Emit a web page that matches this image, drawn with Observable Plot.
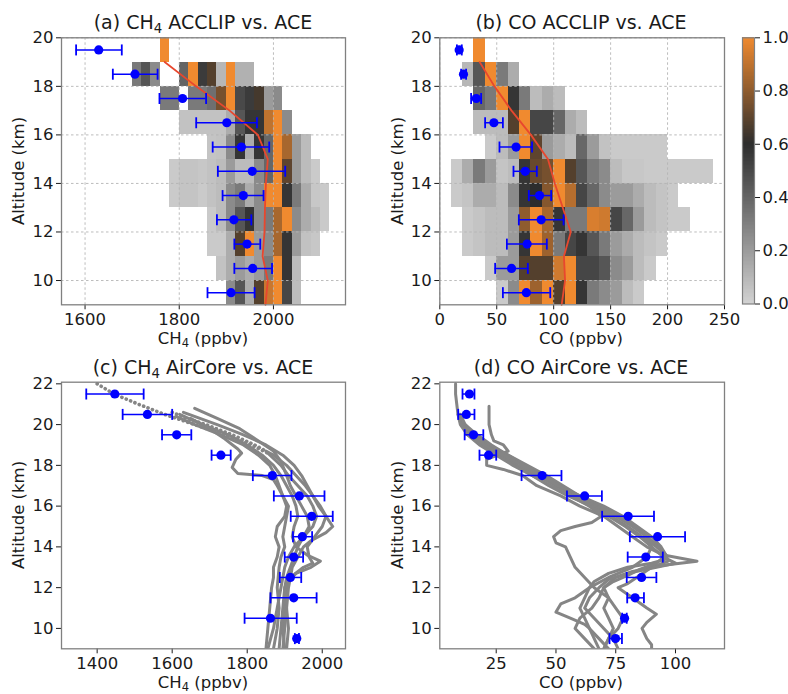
<!DOCTYPE html>
<html><head><meta charset="utf-8">
<script src="https://cdn.jsdelivr.net/npm/d3@7"></script>
<script src="https://cdn.jsdelivr.net/npm/@observablehq/plot@0.6"></script>
<style>
body{margin:0;background:#fff;}
#root{position:relative;width:788px;height:694px;font-family:"DejaVu Sans",sans-serif;color:#1a1a1a;overflow:hidden;background:#fff}
.abs{position:absolute;white-space:nowrap;line-height:1.15}
.title{font-size:19px;transform:translate(-50%,-50%)}
.lab{font-size:16.5px;transform:translate(-50%,-50%)}
.ylab{font-size:16.5px;transform:translate(-50%,-50%) rotate(-90deg)}
sub{font-size:0.7em;vertical-align:-0.28em;line-height:0}
svg{position:absolute;overflow:visible}
</style></head><body><div id="root"></div>
<script>
// ---------- DATA ----------
// altitude bins (lower edge, km) for the ACCLIP 2-D histograms
const altBins = [9, 10, 11, 12, 13, 14, 15, 16, 17, 18, 19];
// CH4 histogram: first bin (ppbv) per altitude row, bin width 20 ppbv, row-normalised frequency (null = empty)
const ch4BinWidth = 20;
const ch4BinStart = [1900, 1880, 1860, 1860, 1780, 1780, 1860, 1800, 1760, 1700, 1760];
const ch4Frac = [
  [0.26, 0.45, 0.14, 0.68, 0.92, 1.0, 0.51, 0.08],
  [0.06, 0.14, 0.2, 0.14, 0.2, 0.32, 1.0, 0.57, 0.08],
  [0.03, 0.03, 0.14, 0.68, 1.0, 0.2, 0.26, 0.85, 0.57, 0.2, 0.06, 0.04],
  [0.03, 0.08, 0.26, 0.45, 0.57, 0.26, 0.32, 0.85, 1.0, 0.26, 0.14, 0.08, 0.03],
  [0.03, 0.05, 0.05, 0.03, 0.06, 0.08, 0.26, 0.32, 0.14, 0.26, 1.0, 1.0, 0.57, 0.32, 0.14, 0.04, 0.03],
  [0.03, 0.05, 0.05, 0.04, 0.06, 0.08, 0.2, 0.08, 0.08, 0.26, 0.39, 1.0, 0.7, 0.2, 0.08, 0.03],
  [0.05, 0.06, 0.26, 0.57, 0.14, 0.57, 0.39, 1.0, 0.85, 0.2, 0.08],
  [0.06, 0.06, 0.06, 0.06, 0.06, 0.14, 0.45, 0.57, 0.57, 0.9, 1.0, 0.26],
  [0.32, 0.32, null, 0.32, 0.32, 0.36, 0.75, 1.0, 0.5, 0.55, 0.65, 0.2, 0.26],
  [0.32, 0.45, 0.26, null, null, 0.4, 1.0, 0.55, 0.68, 0.1, 1.0, 0.12, 0.12],
  [1.0]
];
// CO histogram: bin width 10 ppbv
const coBinWidth = 10;
const coBinStart = [50, 40, 20, 20, 10, 10, 40, 30, 30, 20, 30];
const coFrac = [
  [0.03, 0.26, 1.0, 0.83, 1.0, 0.68, 1.0, 0.57, 0.32, 0.26, 0.2, 0.08, 0.03],
  [0.03, 0.2, 0.2, 0.68, 0.68, 0.68, 0.93, 1.0, 0.51, 0.51, 0.45, 0.26, 0.2, 0.08, 0.03],
  [0.03, 0.05, 0.08, 0.08, 0.2, 0.57, 1.0, 0.83, 0.32, 0.51, 0.57, 0.45, 0.32, 0.2, 0.14, 0.08, 0.05, 0.03],
  [0.03, 0.05, 0.08, 0.08, 0.2, 0.8, 1.0, 0.85, 0.57, 0.32, 0.32, 0.95, 0.93, 0.51, 0.39, 0.2, 0.08, 0.05, 0.03, 0.03],
  [0.03, 0.05, 0.14, 0.14, 0.08, 0.26, 0.57, 0.6, 0.78, 1.0, 0.88, 0.51, 0.39, 0.26, 0.2, 0.2, 0.14, 0.08, 0.05, 0.03],
  [0.03, 0.14, 0.32, 0.2, 0.05, 0.08, 0.57, 0.72, 0.75, 1.0, 0.68, 0.45, 0.32, 0.26, 0.08, 0.04, 0.04, 0.03, 0.03, 0.03, 0.03, 0.03, 0.03],
  [0.03, 0.08, 0.2, 1.0, 0.7, 0.2, 0.14, 0.08, 0.39, 0.2, 0.06, 0.03, 0.03, 0.03, 0.03, 0.03],
  [0.08, 0.08, 0.08, 0.68, 1.0, 0.51, 0.51, 0.39, 0.14, 0.08],
  [0.39, 0.32, 1.0, 0.57, 0.32, 0.08, 0.14, 0.08],
  [0.1, 0.45, 1.0, 0.32, 0.14],
  [1.0]
];
// ACCLIP mean profiles (red lines)
const meanAlt = [9, 10, 11, 12, 13, 14, 15, 16, 17, 18, 19];
const ch4Mean = [1983, 1988, 1977, 1981, 1982, 1984, 1988, 1967, 1907, 1836, 1769];
const coMean = [107, 110, 109, 115, 108, 101, 95, 80, 63, 48, 35];

// ACE means and spreads, top panels
const aceAltTop = [9.5, 10.5, 11.5, 12.5, 13.5, 14.5, 15.5, 16.5, 17.5, 18.5, 19.5];
const aceCh4A = [1910, 1956, 1944, 1916, 1936, 1955, 1932, 1901, 1807, 1706, 1629];
const aceCh4ALo = [1860, 1917, 1917, 1880, 1892, 1882, 1871, 1836, 1758, 1659, 1581];
const aceCh4AHi = [1960, 1997, 1972, 1953, 1979, 2025, 1991, 1965, 1857, 1754, 1678];
const aceCoB = [76, 63, 76.7, 89, 87.6, 75, 67, 47.5, 32, 20.8, 17];
const aceCoBLo = [55.4, 48.6, 58.9, 69.4, 78.2, 64.7, 52.4, 39.8, 27.5, 18.7, 15];
const aceCoBHi = [97, 77.3, 94, 108.7, 97.8, 85.2, 81, 55.4, 36.3, 23.1, 19.3];

// ACE means and spreads, bottom panels
const aceAltBot = [9.5, 10.5, 11.5, 12.5, 13.5, 14.5, 15.5, 16.5, 17.5, 18.5, 19.5, 20.5, 21.5];
const aceCh4C = [1932, 1862, 1924, 1915, 1924, 1947, 1972, 1939, 1867, 1730, 1612, 1534, 1447];
const aceCh4CLo = [1927, 1793, 1862, 1887, 1900, 1922, 1916, 1871, 1815, 1705, 1573, 1468, 1371];
const aceCh4CHi = [1938, 1932, 1985, 1944, 1949, 1973, 2028, 2006, 1918, 1756, 1651, 1600, 1524];
const aceCoD = [74.9, 78.7, 83.1, 85.8, 87.6, 92.5, 80.2, 62, 44.2, 21.8, 15.5, 12.5, 13.8];
const aceCoDLo = [72.4, 77.7, 79.8, 79.6, 80, 80.9, 69.3, 54.6, 35.6, 18, 11.8, 9.1, 10.9];
const aceCoDHi = [77.6, 79.6, 86.8, 92, 94.7, 104, 91, 69.2, 52.3, 25, 19.6, 15.9, 15.9];

// AirCore CH4 profiles [altitude km, ppbv]
const ch4CoreATop = [[22.0,1400],[21.5,1445],[21.0,1510],[20.5,1580],[20.0,1660],[19.5,1740],[19.0,1810],[18.6,1855]];
const ch4CoreA = [[18.6,1855],[18.0,1890],[17.5,1910],[17.0,1935],[16.5,1960],[16.0,1975],[15.5,1985],[15.0,1975],[14.5,1950],[14.0,1935],[13.5,1925],[13.0,1915],[12.5,1905],[12.0,1900],[11.0,1895],[10.0,1890],[9.0,1885]];
const ch4CoreBTop = [[20.6,1600],[20.3,1640],[20.0,1690],[19.5,1760],[19.0,1820],[18.7,1850]];
const ch4CoreB = [[18.7,1850],[18.5,1870],[18.0,1905],[17.5,1930],[17.0,1955],[16.5,1975],[16.0,1995],[15.5,2010],[15.0,2000],[14.5,1980],[14.0,1960],[13.5,1965],[13.2,1975],[13.0,1950],[12.5,1915],[12.0,1905],[11.0,1900],[10.0,1895],[9.0,1900]];
const ch4CoreC = [[20.8,1660],[20.3,1720],[19.8,1780],[19.2,1830],[18.7,1870],[18.2,1890],[17.5,1905],[17.0,1915],[16.5,1930],[16.0,1945],[15.5,1960],[15.0,1965],[14.5,1950],[14.0,1925],[13.5,1910],[13.0,1900],[12.0,1890],[11.0,1880],[10.0,1870],[9.0,1855]];
const ch4CoreD = [[20.3,1650],[19.8,1700],[19.3,1740],[18.8,1775],[18.6,1785],[18.3,1770],[17.9,1760],[17.6,1775],[17.5,1840],[17.3,1870],[17.0,1880],[16.5,1895],[16.0,1910],[15.5,1905],[15.0,1900],[14.5,1895],[14.0,1900],[13.5,1890],[13.0,1885],[12.0,1880],[11.0,1885],[10.0,1880],[9.0,1870]];
const ch4CoreE = [[20.5,1620],[20.0,1680],[19.5,1750],[19.0,1800],[18.5,1840],[18.0,1870],[17.5,1890],[17.0,1905],[16.5,1920],[16.0,1930],[15.5,1935],[15.0,1925],[14.5,1920],[14.0,1930],[13.6,1960],[13.3,1995],[13.0,1970],[12.7,1930],[12.3,1910],[12.0,1900],[11.0,1905],[10.0,1910],[9.0,1905]];
const ch4CoreF = [[20.6,1630],[20.0,1720],[19.5,1790],[19.0,1850],[18.5,1895],[18.0,1925],[17.5,1945],[17.0,1960],[16.5,1975],[16.0,1990],[15.5,2010],[15.0,2028],[14.7,2010],[14.3,1970],[14.0,1950],[13.5,1935],[13.0,1920],[12.0,1910],[11.0,1905],[10.0,1900],[9.0,1895]];
const ch4CoreG = [[20.4,1610],[20.0,1660],[19.5,1730],[19.0,1790],[18.5,1830],[18.0,1860],[17.5,1875],[17.0,1885],[16.5,1895],[16.0,1905],[15.5,1900],[15.0,1880],[14.5,1875],[14.0,1885],[13.5,1880],[13.0,1870],[12.5,1870],[12.0,1865],[11.0,1860],[10.0,1855],[9.0,1850]];

// AirCore CO profiles [altitude km, ppbv]
const coCoreA = [[22,8],[21.5,8],[21,8.5],[20.5,9],[20,11],[19.5,14],[19,19],[18.5,26],[18,33],[17.5,40],[17,47],[16.5,55],[16,65],[15.5,73],[15,80],[14.5,86],[14,92],[13.7,95],[13.4,96],[13.2,90],[13,80],[12.7,72],[12.3,66],[12,64],[11.5,62],[11,60],[10.5,62],[10,64],[9.5,66],[9,68]];
const coCoreB = [[20.9,22],[20.5,22],[20,22],[19.5,23],[19.2,24],[19,28],[18.7,30],[18.3,21],[18,21],[17.8,28],[17.5,36],[17,42],[16.5,52],[16,60],[15.5,70],[15,76],[14.5,82],[14,88],[13.6,95],[13.3,109],[13.1,95],[12.8,82],[12.5,75],[12,70],[11.5,68],[11,65],[10.5,60],[10,58],[9.5,62],[9,66]];
const coCoreC = [[20.5,10],[20,12],[19.5,16],[19,22],[18.5,30],[18,37],[17.5,45],[17,52],[16.5,58],[16,64],[15.5,69],[15.2,65],[15,58],[14.8,52],[14.5,49],[14.2,50],[14,54],[13.5,56],[13,58],[12.5,62],[12,66],[11.5,72],[11,70],[10.5,72],[10,74],[9.5,72],[9,70]];
const coCoreD = [[20,11],[19.5,15],[19,21],[18.5,27],[18,34],[17.5,42],[17,50],[16.5,58],[16,66],[15.5,75],[15,82],[14.5,88],[14,93],[13.6,96],[13.3,97],[13,90],[12.6,85],[12.2,80],[12,76],[11.5,82],[11,88],[10.7,92],[10.3,88],[10,86],[9.5,88],[9.2,90],[9,90]];
const coCoreE = [[20,12],[19.5,17],[19,23],[18.5,30],[18,38],[17.5,46],[17,53],[16.5,60],[16,68],[15.5,76],[15,83],[14.5,88],[14,90],[13.5,88],[13,82],[12.5,72],[12,64],[11.5,58],[11.2,52],[10.8,50],[10.5,56],[10.2,62],[10,64],[9.5,68],[9,72]];
const coCoreF = [[20.5,9],[20,10],[19.5,13],[19,18],[18.5,25],[18,32],[17.5,40],[17,48],[16.5,56],[16,64],[15.5,72],[15,79],[14.5,85],[14,90],[13.5,95],[13.2,100],[13,92],[12.7,80],[12.4,72],[12,68],[11.5,64],[11,62],[10.5,66],[10,70],[9.5,74],[9,76]];
const coCoreG = [[19.5,13],[19,20],[18.5,28],[18,36],[17.5,44],[17,51],[16.5,60],[16,70],[15.5,78],[15,84],[14.5,90],[14,94],[13.6,96],[13.2,92],[12.9,85],[12.6,80],[12.3,74],[12,70],[11.5,72],[11,75],[10.5,78],[10,76],[9.5,72],[9,70]];

// tick values
const ticksAltTop = [10, 12, 14, 16, 18, 20];
const ticksAltBot = [10, 12, 14, 16, 18, 20, 22];
const ticksCh4A = [1600, 1800, 2000];
const ticksCoB = [0, 50, 100, 150, 200, 250];
const ticksCh4C = [1400, 1600, 1800, 2000];
const ticksCoD = [25, 50, 75, 100];
const ticksBar = [0, 0.2, 0.4, 0.6, 0.8, 1.0];

// ---------- DRAWING ----------
const root = document.getElementById("root");
const cmap = d3.scaleLinear().domain([0, 0.6, 1]).range(["#d2d2d2", "#2d2d2d", "#f08a2f"]).interpolate(d3.interpolateRgb).clamp(true);
const BLUE = "#0000ff", GREY = "#858585", FRAME = "#808080", GRID = "#b4b4b4", RED = "#e8472e";
const capSym = {draw(ctx, size) { const h = Math.sqrt(size / Math.PI); ctx.moveTo(0, -h); ctx.lineTo(0, h); }};
const baseStyle = {fontFamily: "DejaVu Sans", fontSize: "16.5px", color: "#1a1a1a", background: "transparent", overflow: "visible"};
const intFmt = d3.format("d");

function cells(starts, fracs, w) {
  const out = [];
  altBins.forEach((a, i) => fracs[i].forEach((f, j) => {
    if (f != null) out.push({y1: a, y2: a + 1, x1: starts[i] + j * w, x2: starts[i] + (j + 1) * w, f});
  }));
  return out;
}
function aceMarks(alt, val, lo, hi) {
  const rows = alt.map((a, i) => ({a, v: val[i], lo: lo[i], hi: hi[i]}));
  return [
    Plot.ruleY(rows, {y: "a", x1: "lo", x2: "hi", stroke: BLUE, strokeWidth: 1.5}),
    Plot.dot(rows, {x: "lo", y: "a", symbol: capSym, r: 5.5, stroke: BLUE, fill: "none", strokeWidth: 1.8}),
    Plot.dot(rows, {x: "hi", y: "a", symbol: capSym, r: 5.5, stroke: BLUE, fill: "none", strokeWidth: 1.8}),
    Plot.dot(rows, {x: "v", y: "a", r: 4.6, fill: BLUE})
  ];
}
function flat(profiles) {
  return profiles.flatMap((p, k) => p.map(([alt, v]) => ({alt, v, k})));
}
function place(svg, left, top) {
  svg.style.left = left + "px"; svg.style.top = top + "px";
  root.appendChild(svg);
}
function text(html, cls, x, y) {
  const d = document.createElement("div");
  d.className = "abs " + cls; d.innerHTML = html;
  d.style.left = x + "px"; d.style.top = y + "px";
  root.appendChild(d);
}
const axisOpts = {tickSize: 5, tickPadding: 3, label: null, tickFormat: intFmt};

// (a)
place(Plot.plot({
  width: 394, height: 345, marginLeft: 61, marginRight: 49, marginTop: 37.3, marginBottom: 40.7,
  style: baseStyle,
  x: {domain: [1550, 2153], ticks: ticksCh4A, ...axisOpts},
  y: {domain: [9, 20], ticks: ticksAltTop, ...axisOpts},
  color: {type: "identity"},
  marks: [
    Plot.rect(cells(ch4BinStart, ch4Frac, ch4BinWidth), {x1: "x1", x2: "x2", y1: "y1", y2: "y2", fill: d => cmap(d.f), shapeRendering: "crispEdges"}),
    Plot.ruleX(ticksCh4A, {stroke: GRID, strokeDasharray: "2.5,2.5", strokeWidth: 0.9}),
    Plot.ruleY(ticksAltTop, {stroke: GRID, strokeDasharray: "2.5,2.5", strokeWidth: 0.9}),
    Plot.line(meanAlt.map((a, i) => ({a, v: ch4Mean[i]})), {x: "v", y: "a", stroke: RED, strokeWidth: 1.8}),
    ...aceMarks(aceAltTop, aceCh4A, aceCh4ALo, aceCh4AHi),
    Plot.frame({stroke: FRAME, strokeWidth: 1.3})
  ]
}), 0, 0);

// (b)
place(Plot.plot({
  width: 340, height: 345, marginLeft: 45.3, marginRight: 10, marginTop: 37.3, marginBottom: 40.7,
  style: baseStyle,
  x: {domain: [0, 250], ticks: ticksCoB, ...axisOpts},
  y: {domain: [9, 20], ticks: ticksAltTop, ...axisOpts},
  color: {type: "identity"},
  marks: [
    Plot.rect(cells(coBinStart, coFrac, coBinWidth), {x1: "x1", x2: "x2", y1: "y1", y2: "y2", fill: d => cmap(d.f), shapeRendering: "crispEdges"}),
    Plot.ruleX(ticksCoB, {stroke: GRID, strokeDasharray: "2.5,2.5", strokeWidth: 0.9}),
    Plot.ruleY(ticksAltTop, {stroke: GRID, strokeDasharray: "2.5,2.5", strokeWidth: 0.9}),
    Plot.line(meanAlt.map((a, i) => ({a, v: coMean[i]})), {x: "v", y: "a", stroke: RED, strokeWidth: 1.8}),
    ...aceMarks(aceAltTop, aceCoB, aceCoBLo, aceCoBHi),
    Plot.frame({stroke: FRAME, strokeWidth: 1.3})
  ]
}), 394, 0);

// colorbar
const barStops = d3.range(0, 1, 0.005);
place(Plot.plot({
  width: 54, height: 345, marginLeft: 8, marginRight: 34, marginTop: 37.3, marginBottom: 41.5,
  style: baseStyle,
  x: {domain: [0, 1], axis: null},
  y: {domain: [0, 1], ticks: ticksBar, tickFormat: d3.format(".1f"), axis: "right", tickSize: 5, tickPadding: 3, label: null},
  color: {type: "identity"},
  marks: [
    Plot.rect(barStops, {x1: 0, x2: 1, y1: d => d, y2: d => d + 0.0051, fill: d => cmap(d + 0.0025), shapeRendering: "crispEdges"}),
    Plot.frame({stroke: FRAME, strokeWidth: 1.2})
  ]
}), 734, 0);

// (c)
place(Plot.plot({
  width: 394, height: 349, marginLeft: 61, marginRight: 49, marginTop: 36.7, marginBottom: 45.7,
  style: baseStyle,
  x: {domain: [1305, 2062], ticks: ticksCh4C, ...axisOpts},
  y: {domain: [9, 22.08], ticks: ticksAltBot, ...axisOpts},
  marks: [
    Plot.line(flat([ch4CoreA, ch4CoreB, ch4CoreC, ch4CoreD, ch4CoreE, ch4CoreF, ch4CoreG]), {x: "v", y: "alt", z: "k", stroke: GREY, strokeWidth: 3, strokeLinejoin: "round", clip: true}),
    Plot.line(flat([ch4CoreATop, ch4CoreBTop]), {x: "v", y: "alt", z: "k", stroke: GREY, strokeWidth: 3.6, strokeDasharray: "0.1,4.6", strokeLinecap: "round", clip: true}),
    ...aceMarks(aceAltBot, aceCh4C, aceCh4CLo, aceCh4CHi),
    Plot.frame({stroke: FRAME, strokeWidth: 1.3})
  ]
}), 0, 345);

// (d)
place(Plot.plot({
  width: 340, height: 349, marginLeft: 45.3, marginRight: 10, marginTop: 36.7, marginBottom: 45.7,
  style: baseStyle,
  x: {domain: [1.4, 120.5], ticks: ticksCoD, ...axisOpts},
  y: {domain: [9, 22.08], ticks: ticksAltBot, ...axisOpts},
  marks: [
    Plot.line(flat([coCoreA, coCoreB, coCoreC, coCoreD, coCoreE, coCoreF, coCoreG]), {x: "v", y: "alt", z: "k", stroke: GREY, strokeWidth: 3, strokeLinejoin: "round", clip: true}),
    ...aceMarks(aceAltBot, aceCoD, aceCoDLo, aceCoDHi),
    Plot.frame({stroke: FRAME, strokeWidth: 1.3})
  ]
}), 394, 345);

// titles and axis labels
text("(a) CH<sub>4</sub> ACCLIP vs. ACE", "title", 203, 23);
text("(b) CO ACCLIP vs. ACE", "title", 581, 23);
text("(c) CH<sub>4</sub> AirCore vs. ACE", "title", 203, 368);
text("(d) CO AirCore vs. ACE", "title", 581, 368);
text("CH<sub>4</sub> (ppbv)", "lab", 203, 339);
text("CO (ppbv)", "lab", 581, 339);
text("CH<sub>4</sub> (ppbv)", "lab", 203, 683);
text("CO (ppbv)", "lab", 581, 683);
text("Altitude (km)", "ylab", 19, 171);
text("Altitude (km)", "ylab", 398, 171);
text("Altitude (km)", "ylab", 19, 515);
text("Altitude (km)", "ylab", 398, 515);
</script></body></html>
